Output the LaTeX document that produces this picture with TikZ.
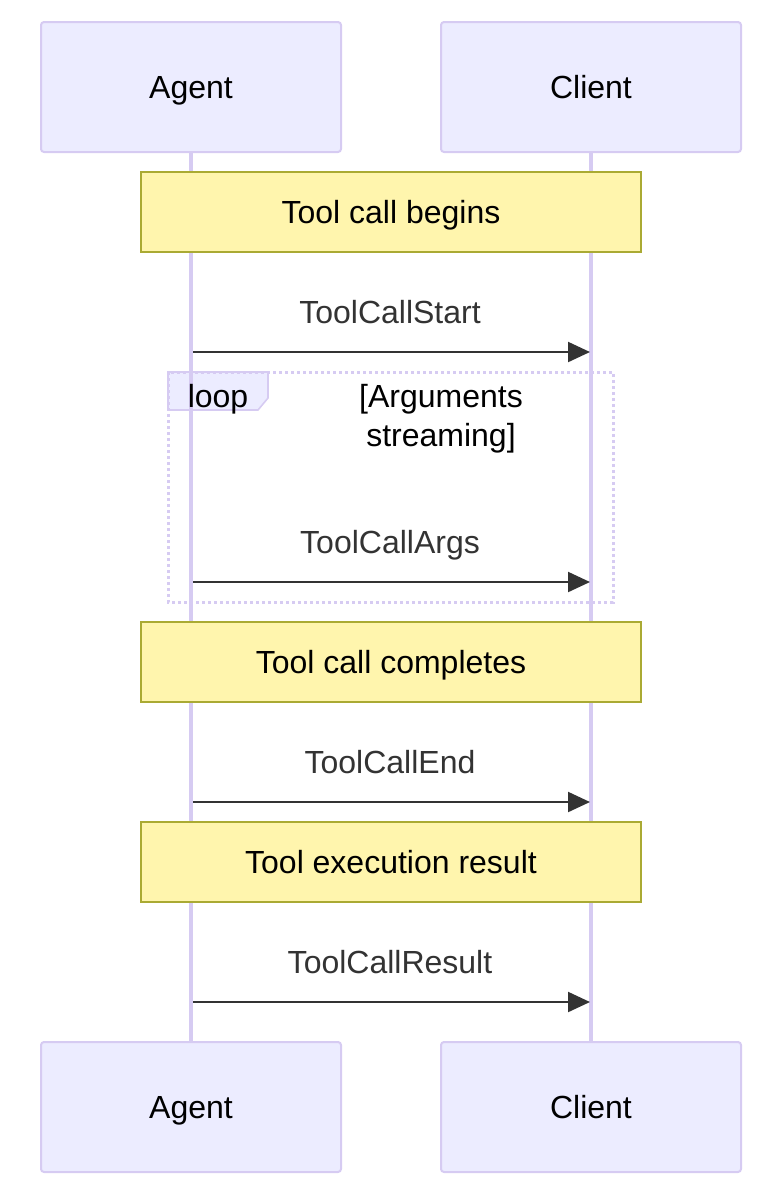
\documentclass[tikz,border=0pt]{standalone}
\usepackage{fontspec}
\setmainfont{Liberation Sans}
\usetikzlibrary{arrows.meta}
\definecolor{actfill}{HTML}{ECECFF}
\definecolor{actline}{HTML}{D6CBF2}
\definecolor{notefill}{HTML}{FFF5AD}
\definecolor{noteline}{HTML}{AAAA33}
\definecolor{msgcol}{HTML}{333333}
\tikzset{
  txt/.style={font=\fontsize{16}{19.5}\selectfont, text height=11.5pt, text depth=0pt},
  actor/.style={draw=actline, fill=actfill, line width=1pt, rounded corners=1.5pt,
    minimum width=150pt, minimum height=65pt, inner sep=0pt, txt, text=black},
  notebox/.style={draw=noteline, fill=notefill, line width=0.9pt,
    minimum width=250pt, minimum height=40pt, inner sep=0pt, txt, text=black},
  lifeline/.style={draw=actline, line width=1.6pt},
  msg/.style={draw=msgcol, line width=1.1pt, -{Triangle[length=11pt,width=10pt]}},
  msglabel/.style={txt, text=msgcol, inner sep=0pt},
  loopframe/.style={draw=actline, line width=1.5pt, dash pattern=on 1.5pt off 1.5pt},
  looplabel/.style={draw=actline, fill=actfill, line width=0.8pt},
  looptext/.style={txt, text=black, inner sep=0pt},
  condtext/.style={font=\fontsize{16}{19.5}\selectfont, text=black, inner sep=0pt, align=center}
}
\begin{document}
\begin{tikzpicture}[x=0.5pt, y=-0.5pt]
\useasboundingbox (0,0) rectangle (764,1196);
% actors
\node[actor] (agentTop) at (191,87) {Agent};
\node[actor] (clientTop) at (591,87) {Client};
\node[actor] (agentBot) at (191,1107) {Agent};
\node[actor] (clientBot) at (591,1107) {Client};
% loop label box
\draw[looplabel] (168,372) -- (268,372) -- (268,398) -- (258,410) -- (168,410) -- cycle;
% lifelines
\draw[lifeline] (agentTop.south) -- (agentBot.north);
\draw[lifeline] (clientTop.south) -- (clientBot.north);
% notes
\node[notebox] (n1) at (391,212) {Tool call begins};
\node[notebox] (n2) at (391,662) {Tool call completes};
\node[notebox] (n3) at (391,862) {Tool execution result};
% loop frame
\draw[loopframe] (168,372) rectangle (613,602);
\node[looptext] (loopt) at (218,396) {loop};
\node[condtext] (cond) at (441,419) {[Arguments\\streaming]};
% messages
\coordinate (a1) at (193,352); \coordinate (c1) at (590,352);
\coordinate (a2) at (193,582); \coordinate (c2) at (590,582);
\coordinate (a3) at (193,802); \coordinate (c3) at (590,802);
\coordinate (a4) at (193,1002); \coordinate (c4) at (590,1002);
\draw[msg] (a1) -- (c1);
\draw[msg] (a2) -- (c2);
\draw[msg] (a3) -- (c3);
\draw[msg] (a4) -- (c4);
\node[msglabel] (m1) at (390,312) {ToolCallStart};
\node[msglabel] (m2) at (390,542) {ToolCallArgs};
\node[msglabel] (m3) at (390,762) {ToolCallEnd};
\node[msglabel] (m4) at (390,962) {ToolCallResult};
\end{tikzpicture}
\end{document}
